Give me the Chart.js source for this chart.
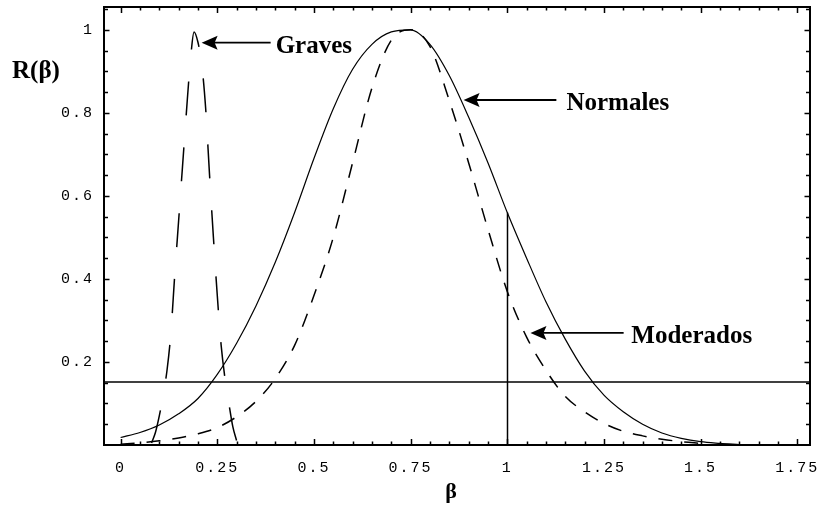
<!DOCTYPE html>
<html>
<head>
<meta charset="utf-8">
<script src="https://cdn.jsdelivr.net/npm/chart.js@4.4.0/dist/chart.umd.min.js"></script>
<style>
  html, body { margin: 0; padding: 0; background: #fff; }
  #wrap { width: 818px; height: 513px; position: relative; }
</style>
</head>
<body>
<div id="wrap"><canvas id="chartR"></canvas></div>
<script>
// ---- data ----
// Normales: beta from 0 to 1.6, step 0.05
const betaNormales = [0, 0.05, 0.1, 0.15, 0.2, 0.25, 0.3, 0.35, 0.4, 0.45, 0.5, 0.55, 0.6, 0.65, 0.7, 0.75,
  0.8, 0.85, 0.9, 0.95, 1, 1.05, 1.1, 1.15, 1.2, 1.25, 1.3, 1.35, 1.4, 1.45, 1.5, 1.55, 1.6];
const rNormales = [0.018, 0.030, 0.048, 0.075, 0.112, 0.17, 0.245, 0.335, 0.44, 0.56, 0.69, 0.81, 0.905, 0.965, 0.995, 1.0,
  0.965, 0.89, 0.79, 0.68, 0.56, 0.45, 0.345, 0.255, 0.178, 0.12, 0.08, 0.05, 0.029, 0.016, 0.008, 0.004, 0.001];

// Moderados: beta from 0 to 1.5, step 0.05
const betaModerados = [0, 0.05, 0.1, 0.15, 0.2, 0.25, 0.3, 0.35, 0.4, 0.45, 0.5, 0.55, 0.6, 0.65, 0.7, 0.75,
  0.8, 0.85, 0.9, 0.95, 1, 1.05, 1.1, 1.15, 1.2, 1.25, 1.3, 1.35, 1.4, 1.45, 1.5];
const rModerados = [0.002, 0.005, 0.010, 0.017, 0.027, 0.042, 0.068, 0.105, 0.16, 0.24, 0.36, 0.50, 0.68, 0.86, 0.975, 1.0,
  0.96, 0.83, 0.68, 0.52, 0.37, 0.26, 0.18, 0.117, 0.08, 0.052, 0.033, 0.022, 0.014, 0.008, 0.004];

// Graves: narrow peak, beta from 0.08 to 0.30, step 0.01
const betaGraves = [0.08, 0.09, 0.1, 0.11, 0.12, 0.13, 0.14, 0.15, 0.16, 0.17, 0.18, 0.19,
  0.2, 0.21, 0.22, 0.23, 0.24, 0.25, 0.26, 0.27, 0.28, 0.29, 0.3];
const rGraves = [0.005, 0.03, 0.07, 0.12, 0.18, 0.27, 0.41, 0.54, 0.67, 0.80, 0.92, 0.995,
  0.97, 0.915, 0.81, 0.65, 0.50, 0.36, 0.24, 0.16, 0.10, 0.045, 0.01];

// reference lines
const rThreshold = 0.152;
const betaMark = 1;
const rMark = 0.56;

// axes
const xTickValues = [0, 0.25, 0.5, 0.75, 1, 1.25, 1.5, 1.75];
const xTickLabels = ['0', '0.25', '0.5', '0.75', '1', '1.25', '1.5', '1.75'];
const yTickValues = [0.2, 0.4, 0.6, 0.8, 1];
const yTickLabels = ['0.2', '0.4', '0.6', '0.8', '1'];

// arrow labels (positions in beta / R units)
const notes = [
  { text: 'Graves',    tip: [0.2095, 0.969], tail: 0.388, textX: 0.401 },
  { text: 'Normales',  tip: [0.887, 0.831],  tail: 1.127, textX: 1.153 },
  { text: 'Moderados', tip: [1.060, 0.270],  tail: 1.301, textX: 1.321 }
];

const toPoints = (xs, ys) => xs.map((b, i) => ({ x: b, y: ys[i] }));

const TICK_FONT = { family: '"Liberation Mono", "DejaVu Sans Mono", monospace', size: 15 };
const LABEL_FONT = 'bold 25px "Liberation Serif", "DejaVu Serif", serif';

// frame with inward ticks, reference lines and arrow labels
const framePlugin = {
  id: 'framePlugin',
  beforeUpdate(chart) { chart.ctx.letterSpacing = '2px'; },
  beforeDraw(chart) { chart.ctx.letterSpacing = '2px'; },
  afterDatasetsDraw(chart) {
    const { ctx, chartArea: a, scales: { x, y } } = chart;
    ctx.save();
    ctx.letterSpacing = '0px';
    ctx.strokeStyle = '#000';
    ctx.fillStyle = '#000';

    // horizontal threshold line
    ctx.lineWidth = 1.5;
    const yt = y.getPixelForValue(rThreshold);
    ctx.beginPath();
    ctx.moveTo(a.left, yt);
    ctx.lineTo(a.right, yt);
    ctx.stroke();

    // vertical line at beta = 1
    const xm = Math.round(x.getPixelForValue(betaMark)) + 0.5;
    ctx.beginPath();
    ctx.moveTo(xm, y.getPixelForValue(0));
    ctx.lineTo(xm, y.getPixelForValue(rMark));
    ctx.stroke();

    // frame
    ctx.lineWidth = 2;
    ctx.strokeRect(a.left, a.top, a.right - a.left, a.bottom - a.top);

    // ticks every 0.05, pointing inward on all four sides
    ctx.lineWidth = 1.5;
    ctx.beginPath();
    for (let k = 0; k <= 35; k++) {
      const px = Math.round(x.getPixelForValue(k * 0.05)) + 0.5;
      const len = k % 5 === 0 ? 6 : 3.5;
      ctx.moveTo(px, a.bottom); ctx.lineTo(px, a.bottom - len);
      ctx.moveTo(px, a.top); ctx.lineTo(px, a.top + len);
    }
    for (let k = 1; k <= 21; k++) {
      const py = Math.round(y.getPixelForValue(k * 0.05)) + 0.5;
      const len = k % 4 === 0 ? 5.5 : 4;
      ctx.moveTo(a.left, py); ctx.lineTo(a.left + len, py);
      ctx.moveTo(a.right, py); ctx.lineTo(a.right - len, py);
    }
    ctx.stroke();

    // arrows + names
    ctx.font = LABEL_FONT;
    ctx.textBaseline = 'alphabetic';
    ctx.textAlign = 'left';
    notes.forEach(n => {
      const tx = x.getPixelForValue(n.tip[0]);
      const ty = y.getPixelForValue(n.tip[1]);
      const ex = x.getPixelForValue(n.tail);
      ctx.lineWidth = 1.8;
      ctx.beginPath();
      ctx.moveTo(tx + 10, ty);
      ctx.lineTo(ex, ty);
      ctx.stroke();
      ctx.beginPath();
      ctx.moveTo(tx, ty);
      ctx.lineTo(tx + 16, ty - 7);
      ctx.lineTo(tx + 13, ty);
      ctx.lineTo(tx + 16, ty + 7);
      ctx.closePath();
      ctx.fill();
      ctx.fillText(n.text, x.getPixelForValue(n.textX), ty + 10);
    });

    // axis titles
    ctx.fillText('R(β)', 12, 78);
    ctx.font = 'bold 22px "Liberation Serif", "DejaVu Serif", serif';
    ctx.textAlign = 'center';
    ctx.fillText('β', 451, 498);
    ctx.restore();
  }
};

new Chart(document.getElementById('chartR'), {
  type: 'line',
  data: {
    datasets: [
      {
        label: 'Normales',
        data: toPoints(betaNormales, rNormales),
        borderColor: '#000',
        borderWidth: 1.2
      },
      {
        label: 'Moderados',
        data: toPoints(betaModerados, rModerados),
        borderColor: '#000',
        borderWidth: 1.5,
        borderDash: [14, 12]
      },
      {
        label: 'Graves',
        data: toPoints(betaGraves, rGraves),
        borderColor: '#000',
        borderWidth: 1.5,
        borderDash: [34, 32]
      }
    ]
  },
  options: {
    responsive: true,
    maintainAspectRatio: false,
    animation: false,
    layout: { padding: { top: 7, right: 8, left: 0, bottom: 0 } },
    elements: {
      point: { radius: 0 },
      line: { cubicInterpolationMode: 'monotone', fill: false }
    },
    plugins: {
      legend: { display: false },
      tooltip: { enabled: false }
    },
    scales: {
      x: {
        type: 'linear',
        min: -0.043,
        max: 1.783,
        afterBuildTicks: s => { s.ticks = xTickValues.map(v => ({ value: v })); },
        afterFit: s => {
          s.height = 68;
          s.paddingLeft = 0;
          s.paddingRight = 0;
        },
        grid: { display: false, drawTicks: false },
        border: { display: false },
        ticks: {
          autoSkip: false,
          maxRotation: 0,
          padding: 14,
          color: '#000',
          font: TICK_FONT,
          callback: (v, i) => xTickLabels[i]
        }
      },
      y: {
        type: 'linear',
        min: 0,
        max: 1.055,
        afterBuildTicks: s => { s.ticks = yTickValues.map(v => ({ value: v })); },
        afterFit: s => {
          s.width = 104;
          s.paddingTop = 0;
          s.paddingBottom = 0;
        },
        grid: { display: false, drawTicks: false },
        border: { display: false },
        ticks: {
          autoSkip: false,
          padding: 10,
          color: '#000',
          font: TICK_FONT,
          callback: (v, i) => yTickLabels[i]
        }
      }
    }
  },
  plugins: [framePlugin]
});
</script>
</body>
</html>
